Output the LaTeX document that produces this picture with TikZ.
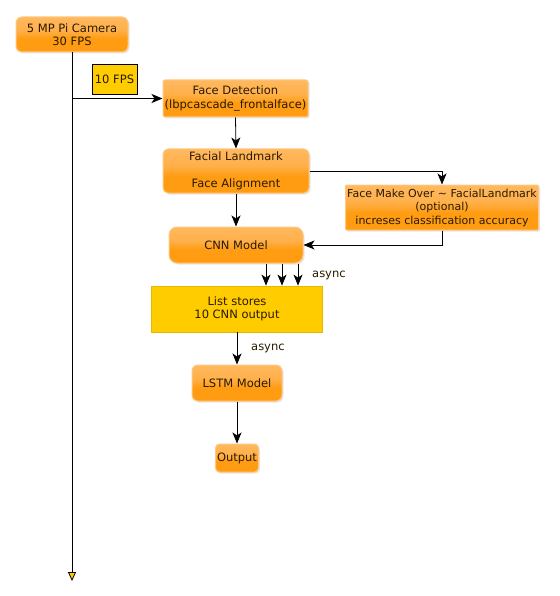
\documentclass[tikz,border=0pt]{standalone}
\usepackage{fontspec}
\setmainfont{DejaVu Sans}
\usetikzlibrary{arrows.meta,shadows}
\definecolor{orEdge}{HTML}{FFC880}
\definecolor{ylw}{HTML}{FFCC00}
\definecolor{ylwEdge}{HTML}{E6B800}
\definecolor{gA}{HTML}{FFC47C}
\definecolor{gB}{HTML}{FFB04A}
\definecolor{gC}{HTML}{FF9C12}
\definecolor{gD}{HTML}{FFA426}
\definecolor{txt}{HTML}{2A1A00}
\pgfdeclareverticalshading{gloss}{100bp}{color(0bp)=(gD); color(25bp)=(gC); color(44bp)=(gC); color(56bp)=(gB); color(100bp)=(gA)}
\begin{document}
\begin{tikzpicture}[x=1pt,y=-1pt,
  font=\fontsize{11.5}{13.5}\selectfont, text=txt,
  box/.style={draw=orEdge, line width=1pt, shading=gloss, align=center, inner sep=0pt,
    drop shadow={opacity=0.2,shadow xshift=1.5pt,shadow yshift=-1.5pt}},
  ybox/.style={fill=ylw, align=center, inner sep=0pt},
  arr/.style={draw=black, line width=0.8pt, -{Stealth[length=11pt,width=9pt,inset=3pt]}},
  endarr/.style={draw=black, line width=0.8pt, -{Triangle[length=9pt,width=8pt,fill=ylw]}},
  lbl/.style={anchor=west, inner sep=0pt}]
\useasboundingbox (0,0) rectangle (559,596);

\node[box, rounded corners=6pt, minimum width=112pt, minimum height=35pt] (cam) at (72,34.5) {5 MP Pi Camera\\30 FPS};
\node[ybox, draw=black, line width=0.6pt, minimum width=45pt, minimum height=30pt] (fps) at (114.5,79) {10 FPS};
\node[box, rounded corners=2pt, minimum width=145pt, minimum height=37pt] (fd) at (235.5,98.5) {Face Detection\\(lbpcascade\_frontalface)};
\node[box, rounded corners=5pt, minimum width=146pt, minimum height=44pt] (fl) at (236,171) {Facial Landmark\\[13pt]Face Alignment};
\node[box, rounded corners=1pt, minimum width=193pt, minimum height=45pt, font=\fontsize{11}{13.5}\selectfont] (fmo) at (442,207.5) {Face Make Over \textasciitilde{} FacialLandmark\\(optional)\\increses classification accuracy};
\node[box, rounded corners=8pt, minimum width=134pt, minimum height=36pt] (cnn) at (236,245) {CNN Model};
\node[ybox, draw=ylwEdge, line width=0.8pt, minimum width=171pt, minimum height=46pt] (list) at (237,309) {List stores\\10 CNN output};
\node[box, rounded corners=6pt, minimum width=90pt, minimum height=36pt] (lstm) at (237,383) {LSTM Model};
\node[box, rounded corners=4pt, minimum width=43pt, minimum height=28pt] (out) at (237,458) {Output};
\coordinate (end) at (72,581);

\draw[endarr] (cam.south) -- (end);
\draw[arr] (cam.south |- fd.west) -- (fd.west);
\draw[arr] (fd.south) -- (fl.north);
\draw[arr] (fl.east) -| (fmo.north);
\draw[arr] (fl.south) -- (cnn.north);
\draw[arr] (fmo.south) |- (cnn.east);
\draw[arr] ([xshift=30pt]cnn.south) -- ([xshift=30pt]cnn.south |- list.north);
\draw[arr] ([xshift=46pt]cnn.south) -- ([xshift=46pt]cnn.south |- list.north);
\draw[arr] ([xshift=62pt]cnn.south) -- ([xshift=62pt]cnn.south |- list.north);
\node[lbl] (as1) at (312,275) {async};
\draw[arr] (list.south) -- (lstm.north);
\node[lbl] (as2) at (251,348) {async};
\draw[arr] (lstm.south) -- (out.north);
\end{tikzpicture}
\end{document}
